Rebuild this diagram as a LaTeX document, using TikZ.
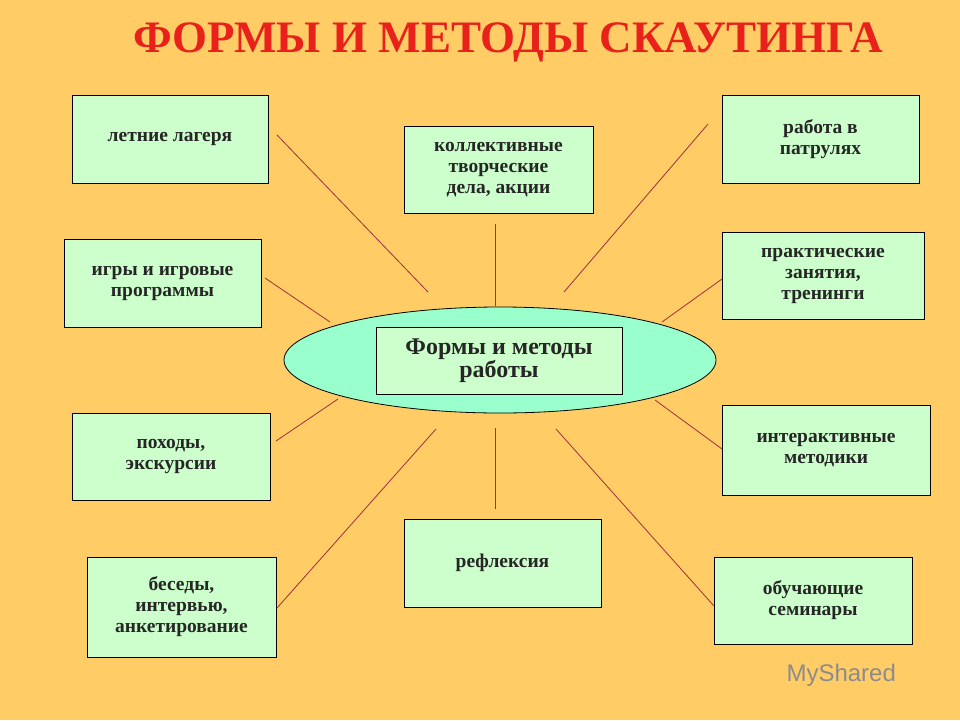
\documentclass[tikz,border=0pt]{standalone}
\usepackage{fontspec}
\setmainfont{Liberation Serif}
\newfontfamily\logofont{Liberation Sans}
\usetikzlibrary{shapes.geometric}
\definecolor{bg}{HTML}{FFCC66}
\definecolor{boxfill}{HTML}{CCFFCC}
\definecolor{ellfill}{HTML}{99FFCC}
\definecolor{linered}{HTML}{A0303A}
\definecolor{titlered}{HTML}{E8211A}
\begin{document}
\begin{tikzpicture}[x=1pt,y=-1pt,
  bx/.style={draw=black,line width=0.8pt,fill=boxfill,align=center,
    font=\fontsize{19.5}{21}\selectfont\bfseries,text=black!85},
  conn/.style={draw=linered,line width=0.8pt}]
\fill[bg] (0,0) rectangle (960,720);
\useasboundingbox (0,0) rectangle (960,720);
\node[text=titlered,font=\fontsize{45}{48}\selectfont\bfseries] (title) at (508,42) {ФОРМЫ И МЕТОДЫ СКАУТИНГА};
\newcommand\bxat[6]{\node[bx,minimum width=#4-#2,minimum height=#5-#3,inner sep=0pt] (#1) at ({(#2+#4)/2},{(#3+#5)/2}) {#6};}
\node[ellipse,draw=black,line width=0.8pt,fill=ellfill,minimum width=432,minimum height=106] (ell) at (500,360) {};
\bxat{center}{376}{327}{622}{394}{\fontsize{24}{26}\selectfont Формы и методы\\ \fontsize{24}{26}\selectfont работы}
\bxat{b1}{72}{95}{268}{183}{летние лагеря}
\bxat{b2}{404}{126}{593}{213}{коллективные\\творческие\\дела, акции}
\bxat{b3}{722}{95}{919}{183}{работа в\\патрулях}
\bxat{b4}{64}{239}{261}{327}{игры и игровые\\программы}
\bxat{b5}{722}{232}{924}{319}{практические\\занятия,\\тренинги}
\bxat{b6}{72}{413}{270}{500}{походы,\\экскурсии}
\bxat{b7}{722}{405}{930}{495}{интерактивные\\методики}
\bxat{b8}{87}{557}{276}{657}{беседы,\\интервью,\\анкетирование}
\bxat{b9}{404}{519}{601}{607}{рефлексия}
\bxat{b10}{714}{557}{912}{644}{обучающие\\семинары}
\foreach \i/\a/\b/\c/\d in {1/277/135/428/292, 2/495/224/495/306, 3/708/124/564/292,
  4/265/278/330/322, 5/722/279/662/322, 6/276/441/338/399, 7/722/449/655/400,
  8/277/608/436/429, 9/495/509/495/428, 10/714/606/556/429}{
  \coordinate (s\i) at (\a,\b); \coordinate (e\i) at (\c,\d);
  \draw[conn] (s\i) -- (e\i);}
\node[text=black!45,font=\logofont\fontsize{24}{26}\selectfont,anchor=west] (logo) at (783,675) {MyShared};
\end{tikzpicture}
\end{document}
